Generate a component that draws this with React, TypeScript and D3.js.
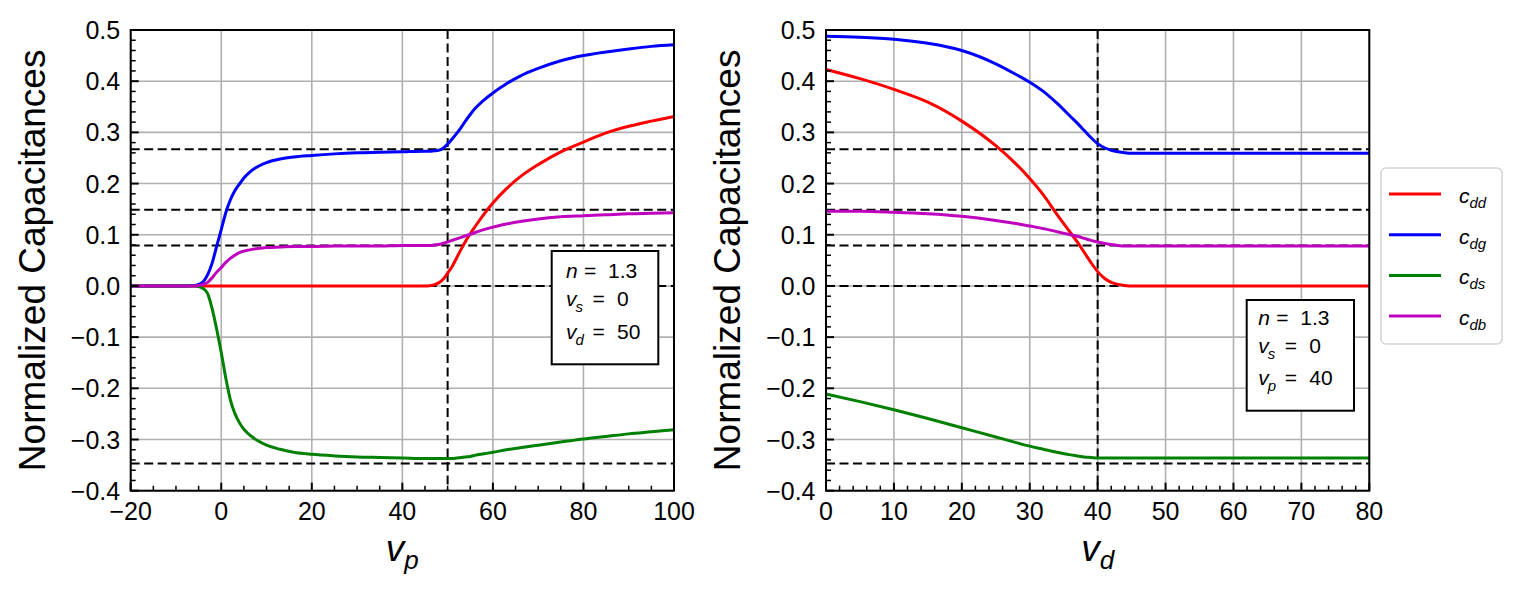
import React from 'react';
import * as d3 from 'd3';

// left panel: sweep of v_p (v_s = 0, v_d = 50)
const vpValues = [-20, -10, -6, -5, -4, -3, -2, -1, 0, 1, 2, 3, 4, 5, 6, 8, 10, 13, 16, 20, 25, 30, 35, 40, 45, 46, 47, 48, 49, 50, 51, 52, 53, 54, 55, 56, 58, 60, 63, 66, 70, 75, 80, 85, 90, 95, 100];
const cddLeft = [0, 0, 0, 0, 0, 0, 0, 0, 0, 0, 0, 0, 0, 0, 0, 0, 0, 0, 0, 0, 0, 0, 0, 0, 0, 0.0005, 0.002, 0.006, 0.013, 0.025, 0.038, 0.055, 0.072, 0.088, 0.102, 0.115, 0.14, 0.162, 0.19, 0.213, 0.237, 0.262, 0.281, 0.299, 0.312, 0.322, 0.331];
const cdgLeft = [0, 0, 0.001, 0.003, 0.008, 0.022, 0.045, 0.078, 0.11, 0.143, 0.168, 0.186, 0.199, 0.211, 0.22, 0.233, 0.241, 0.248, 0.252, 0.255, 0.258, 0.26, 0.261, 0.262, 0.263, 0.263, 0.264, 0.265, 0.269, 0.277, 0.287, 0.298, 0.31, 0.323, 0.335, 0.346, 0.363, 0.377, 0.395, 0.41, 0.425, 0.44, 0.45, 0.457, 0.463, 0.468, 0.471];
const cdsLeft = [0, 0, 0, -0.001, -0.005, -0.015, -0.045, -0.085, -0.13, -0.18, -0.222, -0.249, -0.267, -0.28, -0.289, -0.302, -0.311, -0.319, -0.325, -0.329, -0.332, -0.334, -0.335, -0.336, -0.337, -0.337, -0.337, -0.337, -0.337, -0.337, -0.337, -0.336, -0.335, -0.334, -0.333, -0.331, -0.328, -0.325, -0.32, -0.316, -0.311, -0.305, -0.299, -0.294, -0.289, -0.285, -0.281];
const cdbLeft = [0, 0, 0, 0.001, 0.003, 0.007, 0.016, 0.027, 0.036, 0.046, 0.054, 0.06, 0.065, 0.068, 0.07, 0.073, 0.075, 0.076, 0.077, 0.077, 0.078, 0.078, 0.078, 0.079, 0.079, 0.079, 0.08, 0.081, 0.083, 0.086, 0.089, 0.092, 0.095, 0.098, 0.101, 0.104, 0.11, 0.115, 0.121, 0.126, 0.131, 0.135, 0.137, 0.139, 0.141, 0.142, 0.143];

// right panel: sweep of v_d (v_s = 0, v_p = 40)
const vdValues = [0, 5, 10, 15, 20, 25, 28, 30, 32, 34, 36, 37, 38, 39, 40, 41, 42, 43, 44, 45, 46, 48, 50, 55, 60, 70, 80];
const cddRight = [0.423, 0.405, 0.384, 0.359, 0.322, 0.274, 0.238, 0.21, 0.178, 0.14, 0.104, 0.086, 0.066, 0.046, 0.028, 0.015, 0.007, 0.003, 0.001, 0, 0, 0, 0, 0, 0, 0, 0];
const cdgRight = [0.488, 0.486, 0.482, 0.474, 0.46, 0.434, 0.413, 0.398, 0.38, 0.357, 0.331, 0.318, 0.304, 0.29, 0.278, 0.27, 0.265, 0.262, 0.26, 0.259, 0.259, 0.259, 0.259, 0.259, 0.259, 0.259, 0.259];
const cdsRight = [-0.211, -0.226, -0.242, -0.259, -0.277, -0.295, -0.306, -0.313, -0.319, -0.325, -0.33, -0.332, -0.334, -0.335, -0.336, -0.336, -0.336, -0.336, -0.336, -0.336, -0.336, -0.336, -0.336, -0.336, -0.336, -0.336, -0.336];
const cdbRight = [0.146, 0.146, 0.144, 0.141, 0.136, 0.128, 0.122, 0.117, 0.112, 0.106, 0.1, 0.097, 0.093, 0.089, 0.086, 0.083, 0.081, 0.079, 0.078, 0.078, 0.078, 0.078, 0.078, 0.078, 0.078, 0.078, 0.078];

// reference levels (dashed)
const refLevels = [0.267, 0.149, 0.079, 0, -0.347];

const seriesNames = ['dd', 'dg', 'ds', 'db'];
const seriesColors = ['#ff0000', '#0000ff', '#008000', '#bf00bf'];

const leftXTicks = [-20, 0, 20, 40, 60, 80, 100];
const rightXTicks = [0, 10, 20, 30, 40, 50, 60, 70, 80];
const yTicks = [-0.4, -0.3, -0.2, -0.1, 0.0, 0.1, 0.2, 0.3, 0.4, 0.5];

const leftBox = [
  { sym: 'n', sub: '', val: '1.3' },
  { sym: 'v', sub: 's', val: '0' },
  { sym: 'v', sub: 'd', val: '50' },
];
const rightBox = [
  { sym: 'n', sub: '', val: '1.3' },
  { sym: 'v', sub: 's', val: '0' },
  { sym: 'v', sub: 'p', val: '40' },
];

const FONT = '"Liberation Sans", Arial, Helvetica, sans-serif';
const TOP = 30;
const BOTTOM = 490.7;
const PW = 543.3;

const fmtY = (v: number) => d3.format('.1f')(v).replace('-', '\u2212');
const fmtX = (v: number) => String(v).replace('-', '\u2212');

interface PanelProps {
  left: number;
  xs: number[];
  series: number[][];
  xDomain: [number, number];
  xTicks: number[];
  minorStep: number;
  vline: number;
  xSub: string;
  box: { sym: string; sub: string; val: string }[];
  boxRect: { x: number; y: number; w: number; h: number; pad: number; lines: number[] };
}

const Panel: React.FC<PanelProps> = ({ left, xs, series, xDomain, xTicks, minorStep, vline, xSub, box, boxRect }) => {
  const x = d3.scaleLinear().domain(xDomain).range([left, left + PW]);
  const y = d3.scaleLinear().domain([-0.4, 0.5]).range([BOTTOM, TOP]);
  const line = d3
    .line<number>()
    .x((_, i) => x(xs[i]))
    .y((d) => y(d))
    .curve(d3.curveMonotoneX);

  const xMinor = d3.range(xDomain[0], xDomain[1] + 0.001, minorStep).filter((v) => !xTicks.includes(v));
  const yMinor = d3.range(-0.4, 0.5001, 0.02).filter((v) => Math.abs(Math.round(v * 10) - v * 10) > 0.01);

  return (
    <g>
      {/* grid */}
      {xTicks.map((t) => (
        <line key={'gx' + t} x1={x(t)} x2={x(t)} y1={TOP} y2={BOTTOM} stroke="#b0b0b0" strokeWidth={1.6} />
      ))}
      {yTicks.map((t) => (
        <line key={'gy' + t} x1={left} x2={left + PW} y1={y(t)} y2={y(t)} stroke="#b0b0b0" strokeWidth={1.6} />
      ))}
      {/* reference lines */}
      {refLevels.map((r) => (
        <line key={'r' + r} x1={left} x2={left + PW} y1={y(r)} y2={y(r)} stroke="#000" strokeWidth={2} strokeDasharray="9,4.5" />
      ))}
      <line x1={x(vline)} x2={x(vline)} y1={TOP} y2={BOTTOM} stroke="#000" strokeWidth={2} strokeDasharray="9,4.5" />
      {/* curves */}
      {series.map((s, i) => (
        <path key={'s' + i} d={line(s) || ''} fill="none" stroke={seriesColors[i]} strokeWidth={3} />
      ))}
      {/* ticks */}
      {xTicks.map((t) => (
        <g key={'tx' + t}>
          <line x1={x(t)} x2={x(t)} y1={BOTTOM} y2={BOTTOM - 8} stroke="#000" strokeWidth={2} />
          <text x={x(t)} y={520} textAnchor="middle" fontSize={25} fontFamily={FONT}>
            {fmtX(t)}
          </text>
        </g>
      ))}
      {xMinor.map((t) => (
        <line key={'mx' + t} x1={x(t)} x2={x(t)} y1={BOTTOM} y2={BOTTOM - 5} stroke="#000" strokeWidth={1.5} />
      ))}
      {yTicks.map((t) => (
        <g key={'ty' + t}>
          <line x1={left} x2={left + 8} y1={y(t)} y2={y(t)} stroke="#000" strokeWidth={2} />
          <text x={left - 10.5} y={y(t) + 9} textAnchor="end" fontSize={25} fontFamily={FONT}>
            {fmtY(t)}
          </text>
        </g>
      ))}
      {yMinor.map((t) => (
        <line key={'my' + t} x1={left} x2={left + 5} y1={y(t)} y2={y(t)} stroke="#000" strokeWidth={1.5} />
      ))}
      <rect x={left} y={TOP} width={PW} height={BOTTOM - TOP} fill="none" stroke="#000" strokeWidth={2} />
      {/* axis labels */}
      <text transform={`translate(${left - 85.7},${(TOP + BOTTOM) / 2}) rotate(-90)`} textAnchor="middle" fontSize={37} fontFamily={FONT}>
        Normalized Capacitances
      </text>
      <text x={left + PW / 2} y={561} textAnchor="middle" fontSize={37} fontFamily={FONT}>
        <tspan fontStyle="italic">v</tspan>
        <tspan fontStyle="italic" fontSize={26} dy={8}>
          {xSub}
        </tspan>
      </text>
      {/* parameter box */}
      <rect x={boxRect.x} y={boxRect.y} width={boxRect.w} height={boxRect.h} fill="#fff" stroke="#000" strokeWidth={2} />
      {box.map((b, i) => (
        <g key={'b' + i} fontFamily={FONT} fontSize={21}>
          <text x={boxRect.x + boxRect.pad} y={boxRect.lines[i]} fontStyle="italic">
            {b.sym}
          </text>
          {b.sub && (
            <text x={boxRect.x + boxRect.pad + 9.5} y={boxRect.lines[i] + 6} fontStyle="italic" fontSize={15}>
              {b.sub}
            </text>
          )}
          <text x={boxRect.x + boxRect.pad + (b.sub ? 26.5 : 18)} y={boxRect.lines[i]}>
            =
          </text>
          <text x={boxRect.x + boxRect.pad + (b.sub ? 51 : 42)} y={boxRect.lines[i]}>
            {b.val}
          </text>
        </g>
      ))}
    </g>
  );
};

const Legend: React.FC = () => {
  const top = 168;
  const rows = seriesNames.map((_, i) => 194 + i * 40.7);
  return (
    <g fontFamily={FONT}>
      <rect x={1381} y={top} width={121} height={344 - top} rx={5} fill="#fff" stroke="#d5d5d5" strokeWidth={1.6} />
      {seriesNames.map((n, i) => (
        <g key={n}>
          <line x1={1389} x2={1441} y1={rows[i]} y2={rows[i]} stroke={seriesColors[i]} strokeWidth={3} />
          <text x={1459} y={rows[i] + 9} fontSize={21}>
            <tspan fontStyle="italic">c</tspan>
            <tspan fontStyle="italic" fontSize={15} dy={5}>
              {n}
            </tspan>
          </text>
        </g>
      ))}
    </g>
  );
};

export default function App() {
  return (
    <svg width={1519} height={598} style={{ position: 'absolute', left: 0, top: 0, background: '#fff' }}>
      <Panel
        left={130.7}
        xs={vpValues}
        series={[cddLeft, cdgLeft, cdsLeft, cdbLeft]}
        xDomain={[-20, 100]}
        xTicks={leftXTicks}
        minorStep={5}
        vline={50}
        xSub="p"
        box={leftBox}
        boxRect={{ x: 551.7, y: 251, w: 106.6, h: 113.3, pad: 14.3, lines: [278.3, 306, 339.3] }}
      />
      <Panel
        left={826}
        xs={vdValues}
        series={[cddRight, cdgRight, cdsRight, cdbRight]}
        xDomain={[0, 80]}
        xTicks={rightXTicks}
        minorStep={2}
        vline={40}
        xSub="d"
        box={rightBox}
        boxRect={{ x: 1246.7, y: 300, w: 107.3, h: 110.7, pad: 11.6, lines: [325, 353.3, 385] }}
      />
      <Legend />
    </svg>
  );
}
